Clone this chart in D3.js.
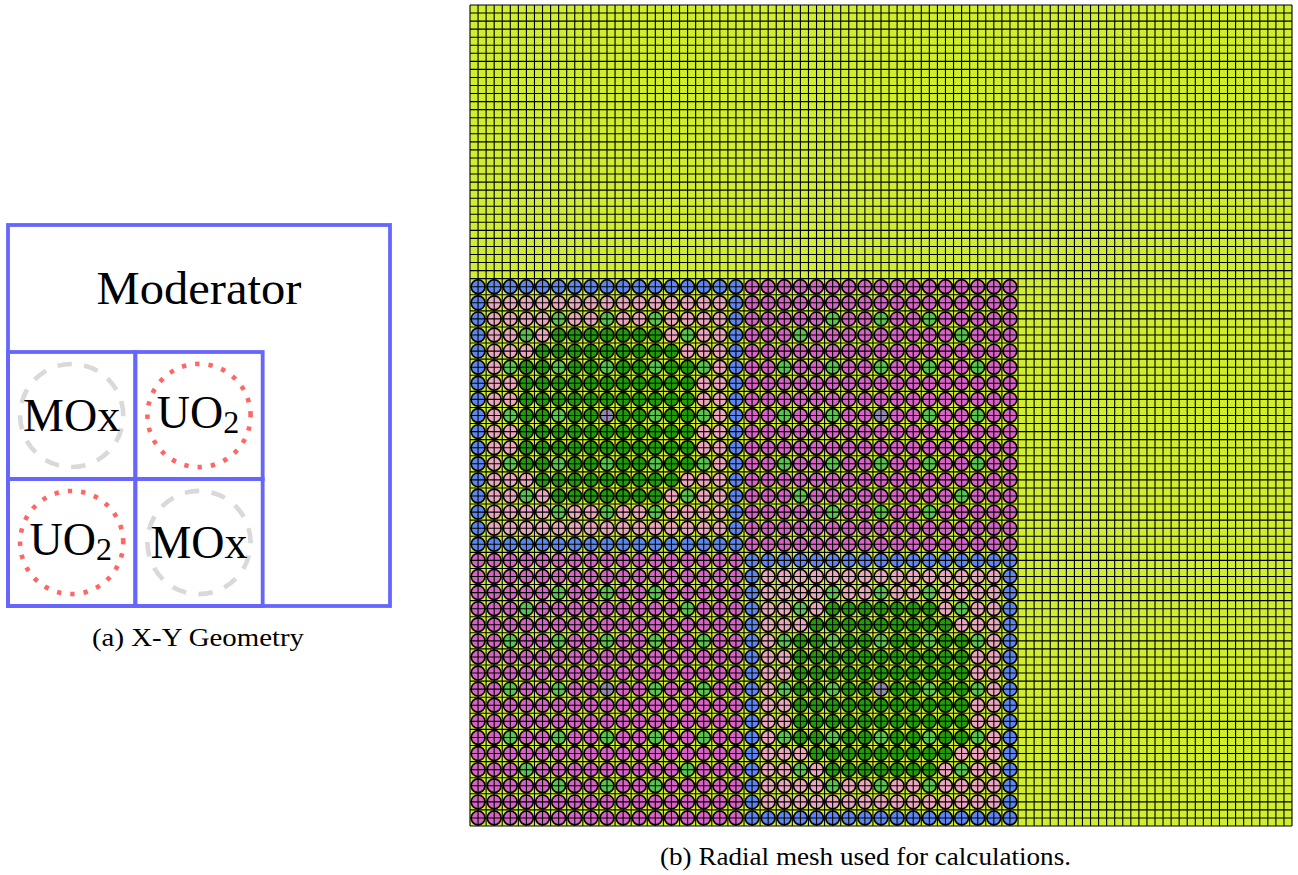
<!DOCTYPE html>
<html>
<head>
<meta charset="utf-8">
<script src="https://cdn.jsdelivr.net/npm/d3@7"></script>
<style>
  html, body { margin: 0; padding: 0; background: #fff; }
  svg { display: block; }
  text { font-family: "Liberation Serif", serif; fill: #000; }
</style>
</head>
<body>
<div id="chart"></div>
<script>
'use strict';

// pin maps, one letter per pin
// B blue, P pink, D dark green, G guide tube, C centre chamber, M magenta
const assemblyA = [
    "BBBBBBBBBBBBBBBBB",
    "BPPPPPPPPPPPPPPPB",
    "BPPPPGPPGPPGPPPPB",
    "BPPGPDDDDDDDPGPPB",
    "BPPPDDDDDDDDDPPPB",
    "BPGDDGDDGDDGDDGPB",
    "BPPDDDDDDDDDDDPPB",
    "BPPDDDDDDDDDDDPPB",
    "BPGDDGDDCDDGDDGPB",
    "BPPDDDDDDDDDDDPPB",
    "BPPDDDDDDDDDDDPPB",
    "BPGDDGDDGDDGDDGPB",
    "BPPPDDDDDDDDDPPPB",
    "BPPGPDDDDDDDPGPPB",
    "BPPPPGPPGPPGPPPPB",
    "BPPPPPPPPPPPPPPPB",
    "BBBBBBBBBBBBBBBBB"
];
const assemblyB = [
    "MMMMMMMMMMMMMMMMM",
    "MMMMMMMMMMMMMMMMM",
    "MMMMMGMMGMMGMMMMM",
    "MMMGMMMMMMMMMGMMM",
    "MMMMMMMMMMMMMMMMM",
    "MMGMMGMMGMMGMMGMM",
    "MMMMMMMMMMMMMMMMM",
    "MMMMMMMMMMMMMMMMM",
    "MMGMMGMMCMMGMMGMM",
    "MMMMMMMMMMMMMMMMM",
    "MMMMMMMMMMMMMMMMM",
    "MMGMMGMMGMMGMMGMM",
    "MMMMMMMMMMMMMMMMM",
    "MMMGMMMMMMMMMGMMM",
    "MMMMMGMMGMMGMMMMM",
    "MMMMMMMMMMMMMMMMM",
    "MMMMMMMMMMMMMMMMM"
];
const coreRows = [["A", "B"], ["B", "A"]];
const pinsPerAssembly = 17;
const pinsAcross = 51;        // 2 assemblies + 17 pins of moderator
const fuelStartRow = 17;
const cellsPerPin = 2;

// left panel
const geomCells = [
    {col: 0, row: 1, label: "MOx", kind: "mox"},
    {col: 1, row: 1, label: "UO", sub: "2", kind: "uo2"},
    {col: 0, row: 2, label: "UO", sub: "2", kind: "uo2"},
    {col: 1, row: 2, label: "MOx", kind: "mox"}
];
const topLabel = "Moderator";
const captionA = "(a) X-Y Geometry";
const captionB = "(b) Radial mesh used for calculations.";

const pinColor = {
    B: "#5c86f2", P: "#eba6be", D: "#209a08", G: "#58c44f", C: "#9088ae", M: "#d763c6"
};
const moderatorColor = "#d0ee2e";
const geomBlue = "#6666ff";

var svg = d3.select("#chart").append("svg")
    .attr("width", 1298)
    .attr("height", 875);

// ---- (a) x-y geometry ----
var gx = d3.scaleLinear().domain([0, 3]).range([8, 390]);
var gy = d3.scaleLinear().domain([0, 3]).range([225, 606]);

var left = svg.append("g");

function frame(x0, y0, x1, y1) {
    left.append("rect")
        .attr("x", gx(x0)).attr("y", gy(y0))
        .attr("width", gx(x1) - gx(x0)).attr("height", gy(y1) - gy(y0))
        .attr("fill", "none")
        .attr("stroke", geomBlue)
        .attr("stroke-width", 3.8);
}

frame(0, 0, 3, 3);
geomCells.forEach(function(d) { frame(d.col, d.row, d.col + 1, d.row + 1); });

// circles start at the east point, the dash seam shows there
function ringPath(cx, cy, r) {
    var p = d3.path();
    p.moveTo(cx + r, cy);
    p.arc(cx, cy, r, 0, 2 * Math.PI, true);
    return p.toString();
}

left.selectAll("path.ring")
    .data(geomCells)
    .enter().append("path")
    .attr("class", "ring")
    .attr("d", function(d) {
        return ringPath(gx(d.col + 0.5), gy(d.row + 0.5), gx(0.405) - gx(0));
    })
    .attr("fill", "none")
    .attr("stroke", function(d) { return d.kind === "uo2" ? "#ff6666" : "#d9d9d9"; })
    .attr("stroke-width", 4.6)
    .attr("stroke-dasharray", function(d) { return d.kind === "uo2" ? "4.4 9" : "14.5 12.4"; });

var labels = left.selectAll("text.lab")
    .data(geomCells)
    .enter().append("text")
    .attr("class", "lab")
    .attr("x", function(d) { return gx(d.col + 0.5) - (d.sub ? 1 : 0); })
    .attr("y", function(d) { return gy(d.row + 0.5) + (d.sub ? 12 : 15); })
    .attr("text-anchor", "middle")
    .attr("font-size", 46);

labels.append("tspan").text(function(d) { return d.label; });
labels.filter(function(d) { return d.sub; }).append("tspan")
    .attr("font-size", 32)
    .attr("dy", 5)
    .text(function(d) { return d.sub; });

left.append("text")
    .attr("x", gx(1.5)).attr("y", gy(0.5) + 15)
    .attr("text-anchor", "middle")
    .attr("font-size", 46)
    .attr("textLength", 205)
    .attr("lengthAdjust", "spacingAndGlyphs")
    .text(topLabel);

left.append("text")
    .attr("x", 198).attr("y", 646)
    .attr("text-anchor", "middle")
    .attr("font-size", 25)
    .attr("textLength", 212)
    .attr("lengthAdjust", "spacingAndGlyphs")
    .text(captionA);

// ---- (b) radial mesh ----
var x = d3.scaleLinear().domain([0, pinsAcross]).range([470, 1292]);
var y = d3.scaleLinear().domain([0, pinsAcross]).range([5, 826]);

var mesh = svg.append("g");

mesh.append("rect")
    .attr("x", x(0)).attr("y", y(0))
    .attr("width", x(pinsAcross) - x(0)).attr("height", y(pinsAcross) - y(0))
    .attr("fill", moderatorColor);

// flatten the core into one list of pins
var pins = [];
coreRows.forEach(function(rowOfAssemblies, ar) {
    rowOfAssemblies.forEach(function(name, ac) {
        var map = name === "A" ? assemblyA : assemblyB;
        map.forEach(function(line, r) {
            line.split("").forEach(function(ch, c) {
                pins.push({
                    col: ac * pinsPerAssembly + c,
                    row: fuelStartRow + ar * pinsPerAssembly + r,
                    type: ch
                });
            });
        });
    });
});

mesh.selectAll("circle")
    .data(pins)
    .enter().append("circle")
    .attr("cx", function(d) { return x(d.col + 0.5); })
    .attr("cy", function(d) { return y(d.row + 0.5); })
    .attr("r", (x(1) - x(0)) * 0.54 / 1.26)
    .attr("fill", function(d) { return pinColor[d.type]; })
    .attr("stroke", "#000")
    .attr("stroke-width", 1.6);

// mesh lines on top of the pins
var ticks = d3.range(0, pinsAcross * cellsPerPin + 1).map(function(i) { return i / cellsPerPin; });

mesh.selectAll("line.v")
    .data(ticks)
    .enter().append("line")
    .attr("class", "v")
    .attr("x1", function(d) { return x(d); })
    .attr("x2", function(d) { return x(d); })
    .attr("y1", y(0))
    .attr("y2", y(pinsAcross))
    .attr("stroke", "#000")
    .attr("stroke-width", 1.1);

mesh.selectAll("line.h")
    .data(ticks)
    .enter().append("line")
    .attr("class", "h")
    .attr("x1", x(0))
    .attr("x2", x(pinsAcross))
    .attr("y1", function(d) { return y(d); })
    .attr("y2", function(d) { return y(d); })
    .attr("stroke", "#000")
    .attr("stroke-width", 1.1);

svg.append("text")
    .attr("x", 865.5).attr("y", 865)
    .attr("text-anchor", "middle")
    .attr("font-size", 25)
    .attr("textLength", 411)
    .attr("lengthAdjust", "spacingAndGlyphs")
    .text(captionB);
</script>
</body>
</html>
